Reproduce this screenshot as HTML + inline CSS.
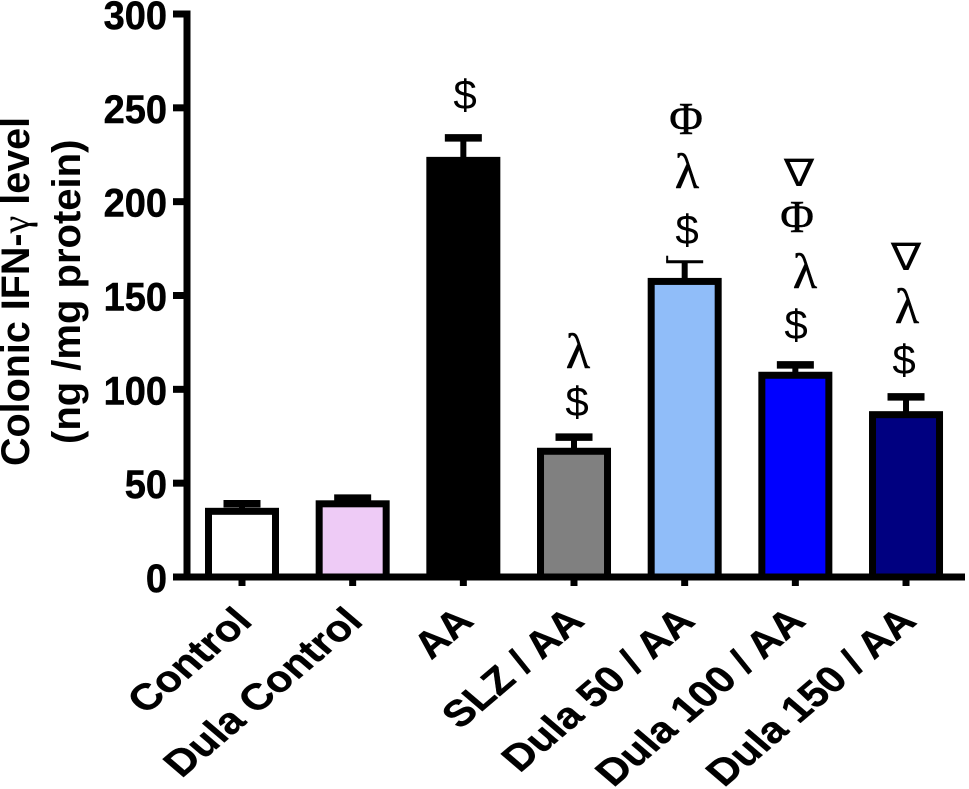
<!DOCTYPE html>
<html>
<head>
<meta charset="utf-8">
<style>
html,body{margin:0;padding:0;background:#fff;}
svg{display:block;}
text{fill:#000;}
.tick{font:bold 38px "Liberation Sans",sans-serif;stroke:#000;stroke-width:.5px;}
.cat{font:bold 34px "Liberation Sans",sans-serif;stroke:#000;stroke-width:.4px;}
.title{font:bold 40px "Liberation Sans",sans-serif;}
.title-first{font-size:39.5px;}
.gamma{font:normal 40px "Liberation Serif",serif;}
.dollar{font:42px "Liberation Sans",sans-serif;text-anchor:middle;}
.lambda{font:50px "Liberation Serif",serif;text-anchor:middle;stroke:#000;stroke-width:.5px;}
.phi{font:46px "Liberation Serif",serif;text-anchor:middle;stroke:#000;stroke-width:.5px;}
.nabla{font:38px "DejaVu Sans",sans-serif;text-anchor:middle;}
</style>
</head>
<body>
<svg id="chart" width="969" height="789" viewBox="0 0 969 789" xmlns="http://www.w3.org/2000/svg">
  <g id="bars"></g>
  <g id="axes"></g>
  <g>
    <text class="title title-first" transform="translate(29,466) rotate(-90)">Colonic IFN-<tspan class="gamma">γ</tspan> level</text>
    <text class="title" transform="translate(80,444) rotate(-90)">(ng /mg protein)</text>
  </g>
  <g>
    <text class="dollar" x="465" y="109">$</text>
    <text class="lambda" x="578" y="368">λ</text>
    <text class="dollar" x="577" y="416">$</text>
    <text class="phi" x="686" y="134">Φ</text>
    <text class="lambda" x="687" y="188">λ</text>
    <text class="dollar" x="687" y="244">$</text>
    <text class="nabla" transform="translate(799,186) scale(1.2,1)">∇</text>
    <text class="phi" x="797" y="232">Φ</text>
    <text class="lambda" x="805" y="288">λ</text>
    <text class="dollar" x="796" y="339">$</text>
    <text class="nabla" transform="translate(906,270) scale(1.2,1)">∇</text>
    <text class="lambda" x="907" y="323">λ</text>
    <text class="dollar" x="904" y="374">$</text>
  </g>
</svg>
<script>
const categories = ["Control", "Dula Control", "AA", "SLZ / AA", "Dula 50 / AA", "Dula 100 / AA", "Dula 150 / AA"];
const means = [35, 39, 222, 67, 157.5, 107.5, 86.5];
const errorTops = [39, 42, 234, 74.5, 168, 113, 96];
const fills = ["#ffffff", "#eecbf6", "#000000", "#808080", "#90bdf9", "#0000ff", "#000080"];
const yTicks = [0, 50, 100, 150, 200, 250, 300];

const NS = "http://www.w3.org/2000/svg";
const yScale = v => 577 - v * 1.8767;
const xScale = i => 242 + i * 110.67;
const barWidth = 67;
const capWidth = 37;

function make(parent, tag, attrs) {
  const el = document.createElementNS(NS, tag);
  for (const k in attrs) el.setAttribute(k, attrs[k]);
  parent.appendChild(el);
  return el;
}

const barsG = document.getElementById("bars");
const axesG = document.getElementById("axes");

categories.forEach((c, i) => {
  const x = xScale(i);
  const stem = make(barsG, "line", {x1: x, x2: x, y1: yScale(means[i]), y2: yScale(errorTops[i]), stroke: "#000", "stroke-width": 6});
  
  
  const thin = i === 4;
  const cap = make(barsG, "line", {x1: x - capWidth / 2, x2: x + capWidth / 2, y1: yScale(errorTops[i]), y2: yScale(errorTops[i]), stroke: "#000", "stroke-width": thin ? 3 : 7.5});
  
  
  if (thin) {
    const notch = make(barsG, "line", {x1: x - capWidth / 2 + 1, x2: x - capWidth / 2 + 1, y1: yScale(errorTops[i]), y2: yScale(errorTops[i]) - 6, stroke: "#000", "stroke-width": 2});
    
    
  }
  const bar = make(barsG, "rect", {x: x - barWidth / 2, y: yScale(means[i]), width: barWidth, height: yScale(0) - yScale(means[i]), fill: fills[i], stroke: "#000", "stroke-width": 7});
  
  

  const tick = make(axesG, "line", {x1: x, x2: x, y1: 577, y2: 586, stroke: "#000", "stroke-width": 7});
  
  
  const label = make(axesG, "text", {"class": "cat", "text-anchor": "end", transform: "translate(" + (x + 12) + ",623) scale(1.27,1.08) rotate(-45)"});
  
  
  label.textContent = c;
});

const yAxis = make(axesG, "line", {x1: 187, x2: 187, y1: yScale(300) - 3.5, y2: 577, stroke: "#000", "stroke-width": 7});


const xAxis = make(axesG, "line", {x1: 173, x2: 965, y1: 577, y2: 577, stroke: "#000", "stroke-width": 7});



yTicks.forEach(v => {
  const y = yScale(v);
  const t = make(axesG, "line", {x1: 173, x2: 187, y1: y, y2: y, stroke: "#000", "stroke-width": 7});
  
  
  const l = make(axesG, "text", {"class": "tick", "text-anchor": "end", transform: "translate(167," + (y + 15) + ") scale(1,1.05)"});
  
  
  l.textContent = v;
});
</script>
</body>
</html>
